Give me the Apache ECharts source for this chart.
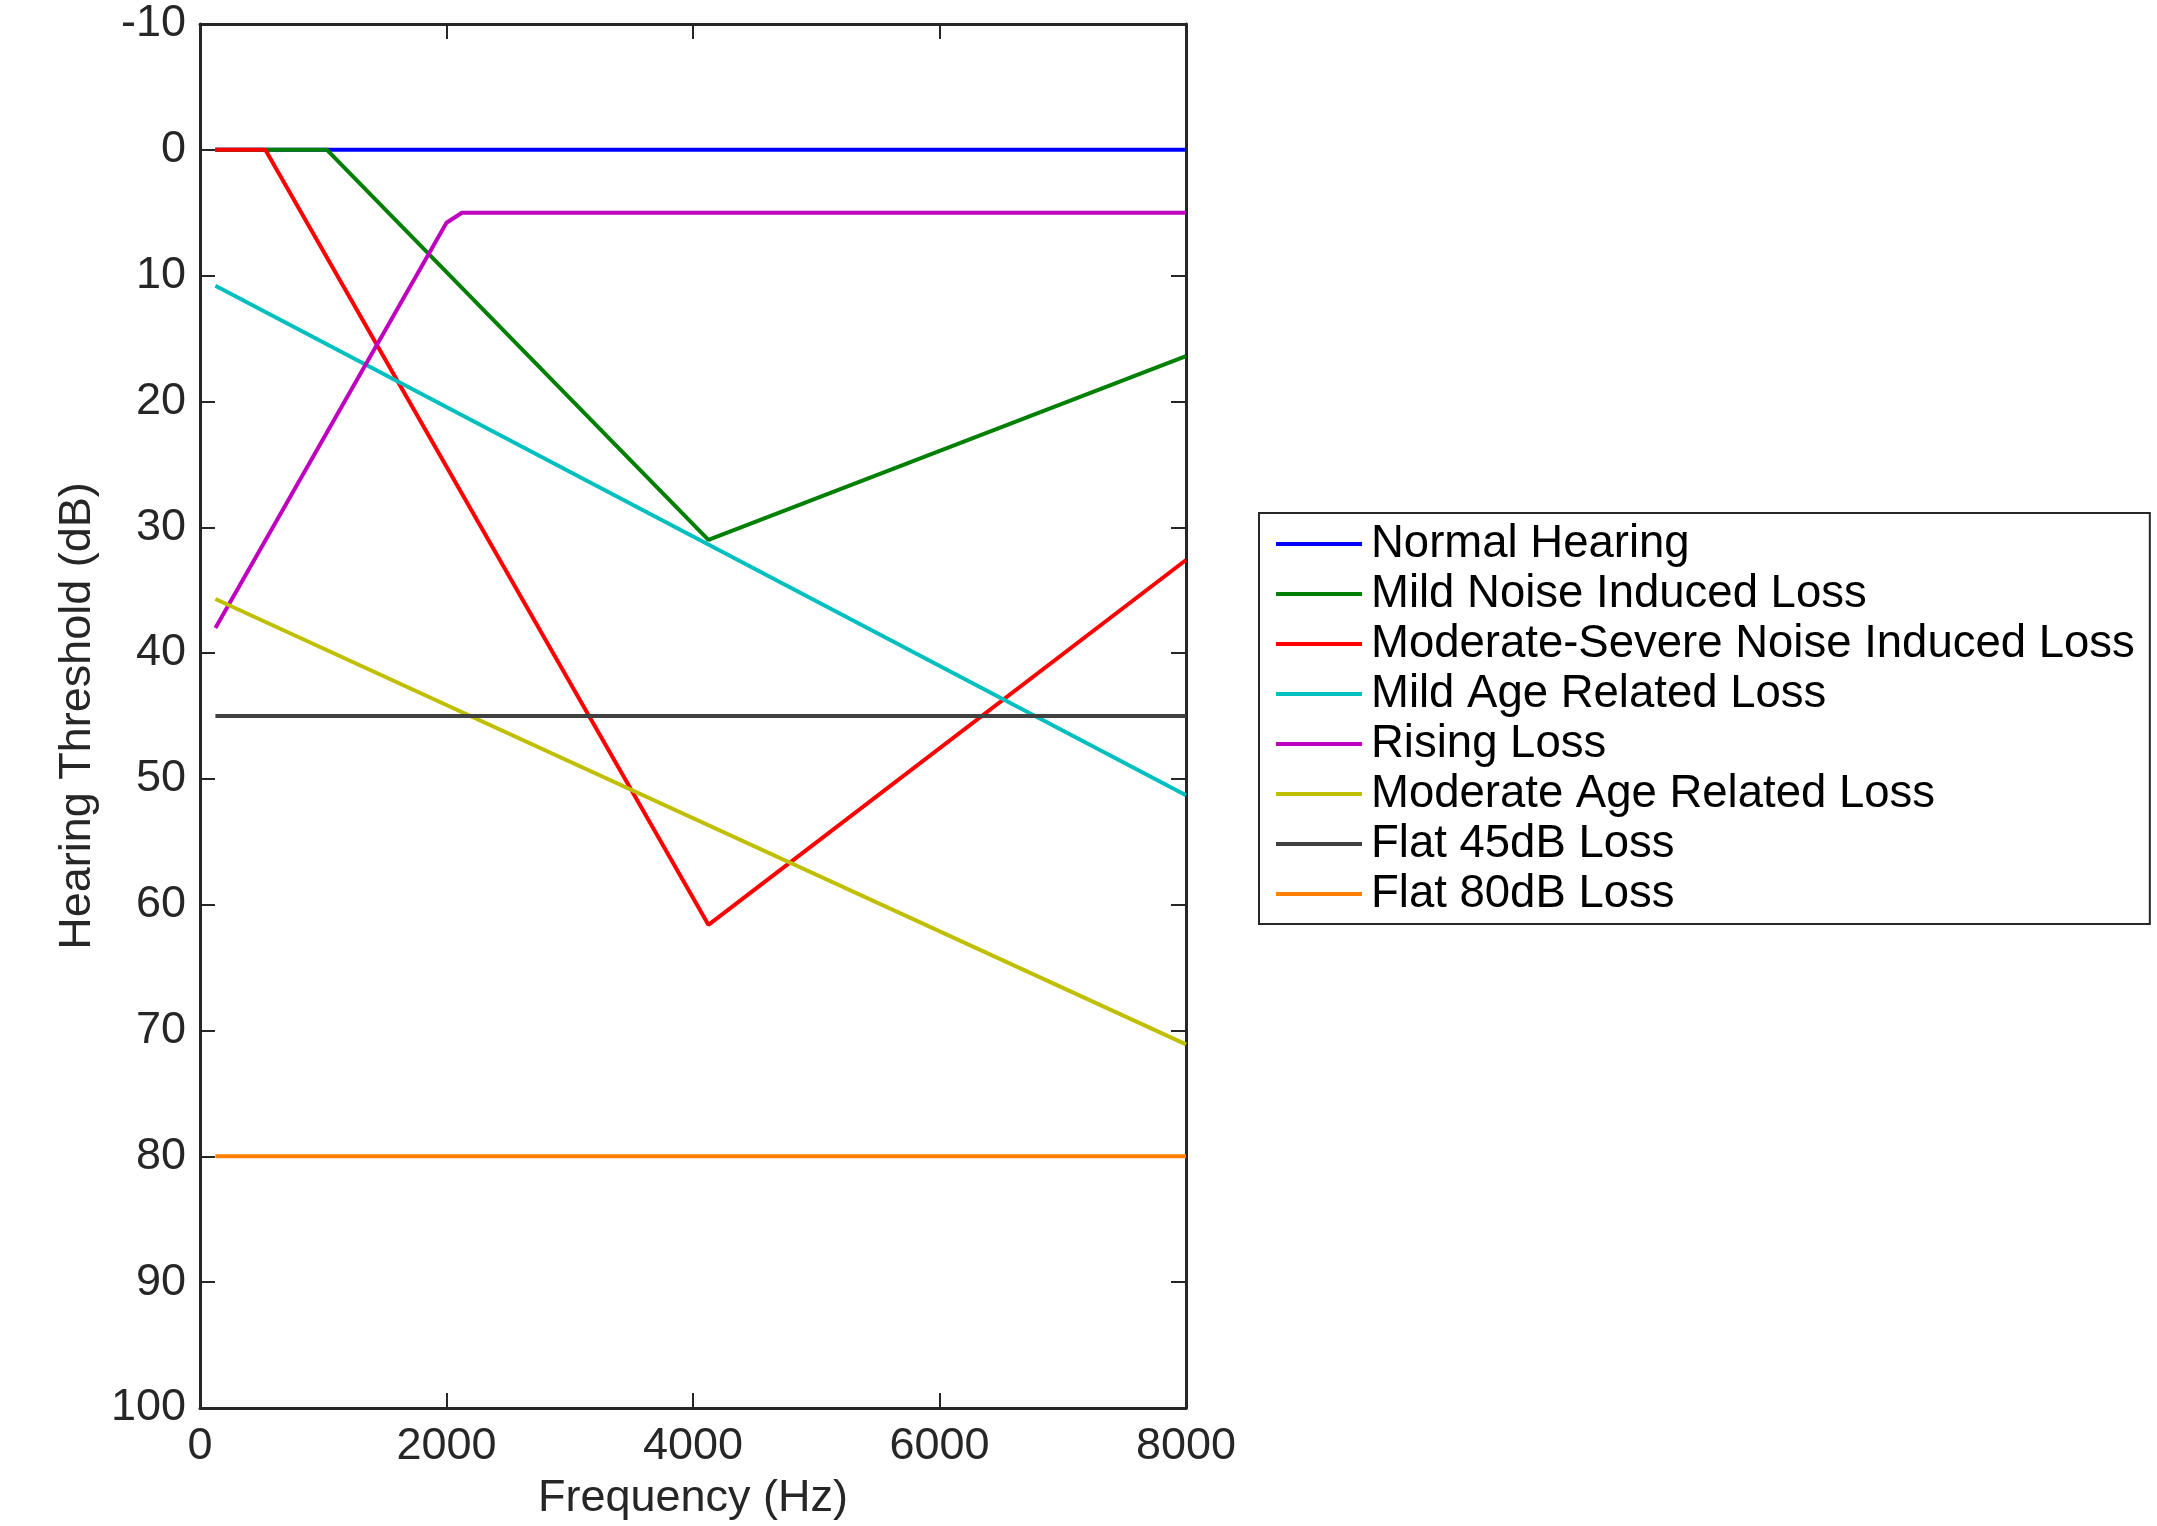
<!DOCTYPE html>
<html>
<head>
<meta charset="utf-8">
<script src="https://cdn.jsdelivr.net/npm/echarts@6/dist/echarts.min.js"></script>
<style>
html,body{margin:0;padding:0;background:#fff;}
#chart{width:2157px;height:1526px;}
</style>
</head>
<body>
<div id="chart"></div>
<script>
// ---- data ----
const seriesNames = ['Normal Hearing','Mild Noise Induced Loss','Moderate-Severe Noise Induced Loss','Mild Age Related Loss','Rising Loss','Moderate Age Related Loss','Flat 45dB Loss','Flat 80dB Loss'];
const normalX = [125, 8000];           const normalY = [0, 0];
const mildNoiseX = [125, 1030, 4125, 8000]; const mildNoiseY = [0, 0, 31, 16.4];
const modSevX = [125, 530, 4125, 8000];     const modSevY = [0, 0, 61.6, 32.6];
const mildAgeX = [125, 8000];          const mildAgeY = [10.8, 51.3];
const risingX = [125, 2000, 2125, 8000];    const risingY = [38, 5.8, 5, 5];
const modAgeX = [125, 8000];           const modAgeY = [35.7, 71.1];
const flat45X = [125, 8000];           const flat45Y = [45, 45];
const flat80X = [125, 8000];           const flat80Y = [80, 80];
const xTicks = [0, 2000, 4000, 6000, 8000];
const yTicks = [-10, 0, 10, 20, 30, 40, 50, 60, 70, 80, 90, 100];

const colors = ['#0000FF','#008000','#FF0000','#00BFBF','#BF00BF','#BFBF00','#404040','#FF8000'];
const xs = [normalX, mildNoiseX, modSevX, mildAgeX, risingX, modAgeX, flat45X, flat80X];
const ys = [normalY, mildNoiseY, modSevY, mildAgeY, risingY, modAgeY, flat45Y, flat80Y];

const FONT = 'Liberation Sans, Arial, Helvetica, sans-serif';
const AX = '#262626';

function pairs(x, y){ return x.map((v,i)=>[v, y[i]]); }

const axisCommon = {
  type: 'value',
  axisLine: { show: true, onZero: false, lineStyle: { color: AX, width: 3 } },
  axisTick: { show: true, inside: true, length: 15, lineStyle: { color: AX, width: 2 } },
  splitLine: { show: false },
};

const chart = echarts.init(document.getElementById('chart'), null, { renderer: 'canvas' });
chart.setOption({
  animation: false,
  backgroundColor: '#ffffff',
  grid: { left: 200, top: 24, right: 971, bottom: 108, containLabel: false },
  xAxis: [
    Object.assign({}, axisCommon, {
      position: 'bottom', min: xTicks[0], max: xTicks[xTicks.length-1], interval: 2000,
      axisLabel: { fontSize: 45, color: AX, fontFamily: FONT, margin: 16, formatter: v => String(v) },
      name: 'Frequency (Hz)', nameLocation: 'middle', nameGap: 68,
      nameTextStyle: { fontSize: 45, color: AX, fontFamily: FONT }
    }),
    Object.assign({}, axisCommon, {
      position: 'top', min: xTicks[0], max: xTicks[xTicks.length-1], interval: 2000,
      axisLabel: { show: false }
    })
  ],
  yAxis: [
    Object.assign({}, axisCommon, {
      position: 'left', inverse: true, min: yTicks[0], max: yTicks[yTicks.length-1], interval: 10,
      axisLabel: { fontSize: 45, color: AX, fontFamily: FONT, margin: 14, formatter: v => String(v) },
      name: 'Hearing Threshold (dB)', nameLocation: 'middle', nameGap: 100, nameRotate: 90,
      nameTextStyle: { fontSize: 45, color: AX, fontFamily: FONT }
    }),
    Object.assign({}, axisCommon, {
      position: 'right', inverse: true, min: yTicks[0], max: yTicks[yTicks.length-1], interval: 10,
      axisLabel: { show: false }
    })
  ],
  legend: {
    orient: 'vertical', left: 1259, top: 513,
    padding: [6, 15, 5, 17],
    borderColor: AX, borderWidth: 2, backgroundColor: '#fff',
    icon: 'rect', itemWidth: 86, itemHeight: 4, itemGap: 0,
    textStyle: { fontSize: 45.5, color: '#000', fontFamily: FONT, lineHeight: 50, padding: [0, 0, 0, 4] },
    data: seriesNames
  },
  series: seriesNames.map((n, i) => ({
    name: n, type: 'line', xAxisIndex: 0, yAxisIndex: 0,
    data: pairs(xs[i], ys[i]),
    symbol: 'none', showSymbol: false,
    color: colors[i],
    lineStyle: { color: colors[i], width: 4 },
    itemStyle: { color: colors[i] },
    z: 2 + i
  }))
});
</script>
</body>
</html>
